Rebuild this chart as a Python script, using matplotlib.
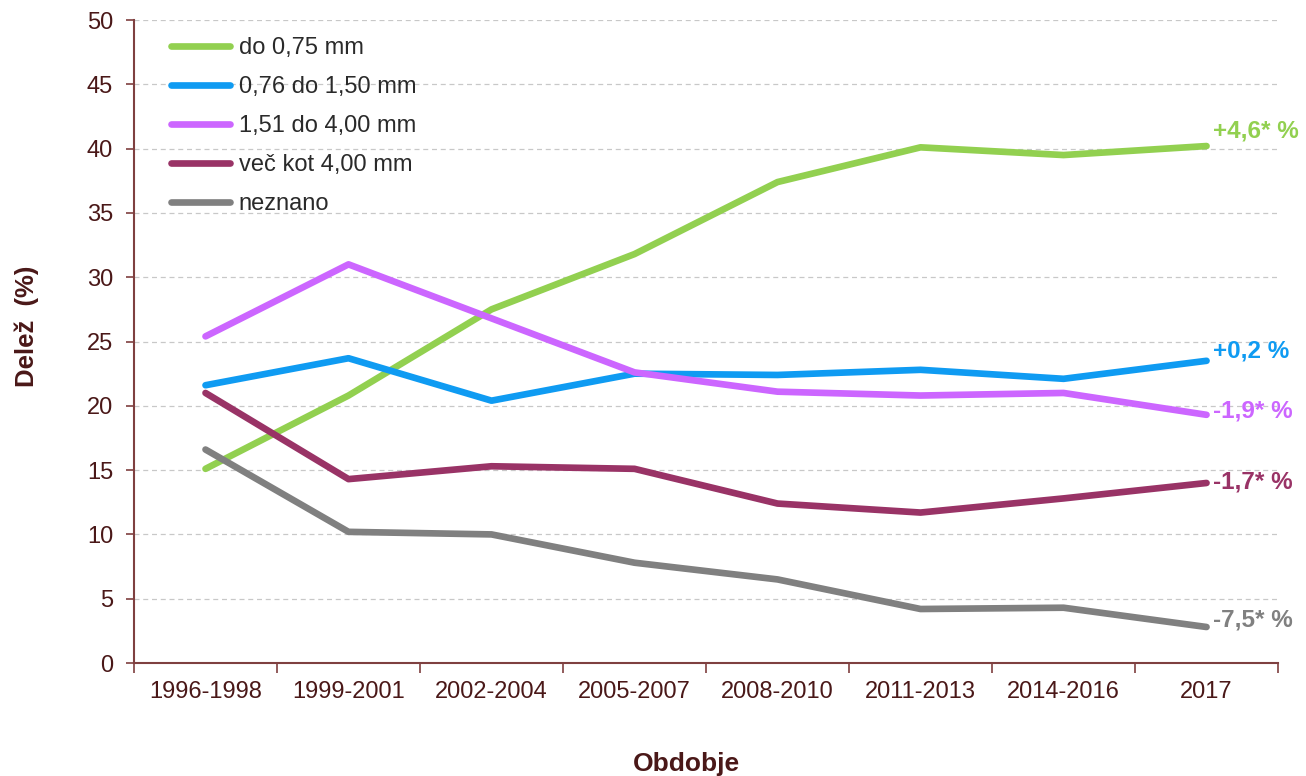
import numpy as np
import matplotlib.pyplot as plt

plt.rcParams['font.family'] = ['Liberation Sans', 'DejaVu Sans']

obdobja = ['1996-1998', '1999-2001', '2002-2004', '2005-2007',
           '2008-2010', '2011-2013', '2014-2016', '2017']

do_075 = [15.1, 20.8, 27.5, 31.8, 37.4, 40.1, 39.5, 40.2]
od_076 = [21.6, 23.7, 20.4, 22.5, 22.4, 22.8, 22.1, 23.5]
od_151 = [25.4, 31.0, 26.8, 22.6, 21.1, 20.8, 21.0, 19.3]
vec_4 = [21.0, 14.3, 15.3, 15.1, 12.4, 11.7, 12.8, 14.0]
neznano = [16.6, 10.2, 10.0, 7.8, 6.5, 4.2, 4.3, 2.8]

oznake = ['do 0,75 mm', '0,76 do 1,50 mm', '1,51 do 4,00 mm',
          'več kot 4,00 mm', 'neznano']
spremembe = ['+4,6* %', '+0,2 %', '-1,9* %', '-1,7* %', '-7,5* %']

barve = ['#92D050', '#0F9BF2', '#CC66FF', '#993366', '#808080']
zamiki = [11, 7, 3, 1, 5]   # navpični zamik napisov (točke)
txt_col = '#4A1818'
axis_col = '#7F4040'

fig = plt.figure(figsize=(13.06, 7.76), dpi=100)
ax = fig.add_axes([0.1026, 0.1456, 0.876, 0.8286])

x = np.arange(len(obdobja))
serije = [do_075, od_076, od_151, vec_4, neznano]
for y, lab, c, txt, dz in zip(serije, oznake, barve, spremembe, zamiki):
    ax.plot(x, y, color=c, lw=4.8, label=lab, solid_capstyle='round')
    ax.annotate(txt, xy=(x[-1], y[-1]), xytext=(5, dz), textcoords='offset points',
                color=c, fontsize=17.5, fontweight='bold', va='center', ha='left')

ax.set_xlim(-0.5, len(obdobja) - 0.5)
ax.set_ylim(0, 50)
ax.set_yticks(np.arange(0, 51, 5))
ax.set_xticks(x)
ax.set_xticklabels(obdobja)
ax.set_xticks(np.arange(-0.5, len(obdobja), 1), minor=True)
ax.tick_params(axis='x', which='major', length=0, pad=13, labelsize=17, labelcolor=txt_col)
ax.tick_params(axis='x', which='minor', length=7, color=axis_col, width=1.2)
ax.tick_params(axis='y', length=6, color=axis_col, width=1.2, labelsize=17,
               labelcolor=txt_col, pad=9)

ax.grid(axis='y', color='#C8C8C8', ls=(0, (4, 3)), lw=0.9)
ax.set_axisbelow(True)
for s in ['top', 'right']:
    ax.spines[s].set_visible(False)
for s in ['left', 'bottom']:
    ax.spines[s].set_color(axis_col)
    ax.spines[s].set_linewidth(1.5)

ax.set_ylabel('Delež  (%)', fontsize=18.5, fontweight='bold', color=txt_col)
ax.yaxis.set_label_coords(-0.083, 0.524)
ax.set_xlabel('Obdobje', fontsize=19, fontweight='bold', color=txt_col)
ax.xaxis.set_label_coords(0.4825, -0.138)

leg = ax.legend(loc='upper left', bbox_to_anchor=(0.014, 1.006), frameon=False,
                fontsize=17, handlelength=2.5, labelspacing=0.72, handletextpad=0.35)
for t in leg.get_texts():
    t.set_color('#2A2A2A')

fig.savefig('out.png', dpi=100, facecolor='white')
